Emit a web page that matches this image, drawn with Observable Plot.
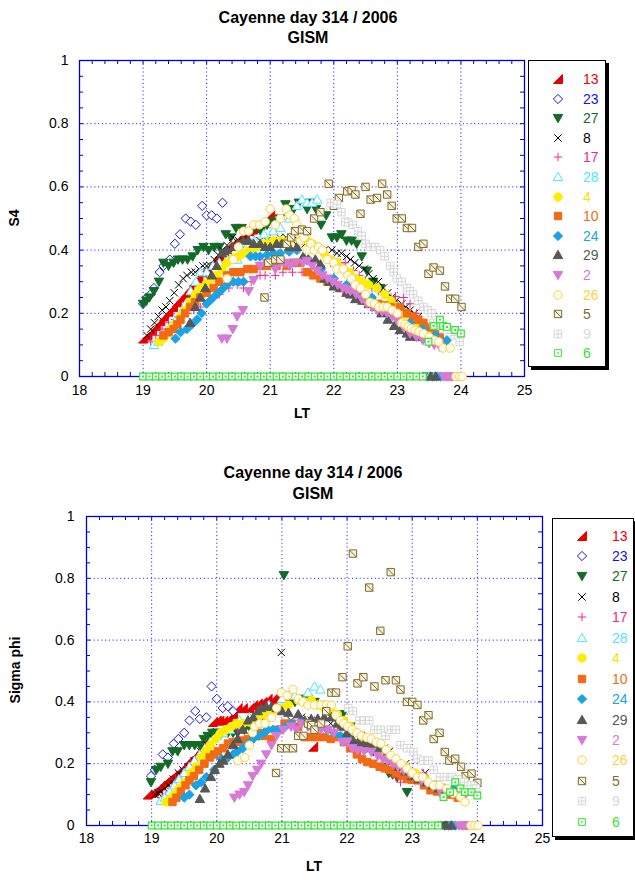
<!DOCTYPE html>
<html><head><meta charset="utf-8">
<script src="https://cdn.jsdelivr.net/npm/d3@7"></script>
<script src="https://cdn.jsdelivr.net/npm/@observablehq/plot@0.6"></script>
<style>
body{margin:0;background:#fff;font-family:"Liberation Sans",Arial,sans-serif;}
#page{position:relative;width:635px;height:880px;overflow:hidden;background:#fff;}
.t{position:absolute;font-weight:bold;font-size:16px;line-height:20px;text-align:center;width:320px;color:#000;}
.al{position:absolute;font-weight:bold;font-size:14px;line-height:16px;white-space:nowrap;color:#000;}
.leg{position:absolute;border:1.5px solid #000;box-shadow:3px 3px 0 #000;background:#fff;box-sizing:border-box;}
.leg .lab{position:absolute;font-size:14px;line-height:16px;}
.leg svg{position:absolute;overflow:visible;}
</style></head>
<body><div id="page"></div>
<script>
// ---------------- DATA (LT hours, value) ----------------
const seriesIds = ["13","23","27","8","17","28","4","10","24","29","2","26","5","9","6"];
const xTicks = [18,19,20,21,22,23,24,25];
const yTicks = [0,0.2,0.4,0.6,0.8,1];
const yTickLabels = ["0","0.2","0.4","0.6","0.8","1"];

// zero-valued green (6) samples along the bottom
const ltZero6 = [19.0,19.1,19.2,19.3,19.4,19.5,19.6,19.7,19.8,19.9,20.0,20.1,20.2,20.3,20.4,20.5,20.6,20.7,20.8,20.9,21.0,21.1,21.2,21.3,21.4,21.5,21.6,21.7,21.8,21.9,22.0,22.1,22.2,22.3,22.4,22.5,22.6,22.7,22.8,22.9,23.0,23.1,23.2,23.3,23.4];

// ---- S4 ----
const s4_13 = [[19.0,.12],[19.07,.13],[19.14,.145],[19.2,.16],[19.27,.175],[19.33,.19],[19.4,.205],[19.47,.22],[19.53,.235],[19.6,.25],[19.67,.265],[19.73,.28],[19.8,.30],[19.87,.31],[19.93,.33],[20.0,.34],[20.07,.355],[20.13,.37],[20.2,.38],[20.27,.395],[20.33,.41],[20.4,.42],[20.47,.43],[20.53,.44],[20.6,.45],[20.67,.46],[20.73,.465],[20.8,.47],[21.0,.51]];
const s4_23 = [[19.0,.23],[19.06,.25],[19.12,.26],[19.17,.28],[19.26,.33],[19.32,.35],[19.42,.37],[19.5,.42],[19.58,.45],[19.67,.50],[19.75,.49],[19.83,.48],[19.93,.54],[20.0,.51],[20.08,.51],[20.16,.50],[20.25,.55]];
const s4_27 = [[19.0,.23],[19.05,.24],[19.1,.25],[19.17,.27],[19.25,.30],[19.32,.36],[19.4,.35],[19.48,.36],[19.55,.37],[19.62,.37],[19.7,.37],[19.78,.38],[19.86,.40],[19.95,.41],[20.03,.40],[20.12,.41],[20.2,.41],[20.3,.45],[20.38,.44],[20.46,.47],[20.55,.47],[20.65,.46],[20.75,.47],[20.85,.46],[20.95,.48],[21.05,.49],[21.15,.50],[21.24,.545],[21.37,.53],[21.45,.55],[21.58,.53],[21.63,.55],[21.72,.53],[21.8,.48],[21.88,.51],[21.97,.44],[22.05,.44],[22.12,.45],[22.2,.43],[22.28,.43],[22.36,.42],[22.44,.38],[22.52,.335],[22.62,.30],[22.73,.28],[23.48,0],[23.55,0]];
const s4_8 = [[19.06,.13],[19.12,.15],[19.18,.17],[19.24,.19],[19.3,.21],[19.36,.22],[19.42,.24],[19.49,.265],[19.56,.29],[19.63,.31],[19.69,.32],[19.76,.33],[19.82,.33],[19.88,.34],[19.94,.35],[20.0,.35],[20.06,.35],[20.12,.37],[20.18,.385],[20.25,.40],[20.32,.415],[20.41,.44],[20.5,.43],[20.6,.44],[20.7,.43],[20.84,.43],[20.95,.43],[21.05,.43],[21.15,.44],[21.25,.44],[21.35,.43],[21.45,.43],[21.55,.42],[21.7,.41],[21.85,.40],[21.97,.40],[22.05,.39],[22.12,.39],[22.2,.38],[22.26,.37],[22.33,.36],[22.4,.35],[22.48,.34],[22.55,.325],[22.62,.31],[22.7,.30],[22.78,.28],[22.85,.265],[22.91,.25],[22.98,.24],[23.07,.23],[23.13,.22],[23.2,.21],[23.27,.20],[23.33,.19]];
const s4_17 = [[19.12,.11],[19.2,.13],[19.3,.15],[19.4,.17],[19.5,.18],[19.6,.19],[19.7,.20],[19.8,.21],[19.9,.22],[20.06,.24],[20.2,.26],[20.35,.28],[20.48,.29],[20.58,.28],[20.7,.30],[20.84,.32],[20.92,.32],[21.08,.32],[21.2,.33],[21.35,.33],[21.5,.33],[21.65,.34],[21.8,.35],[21.95,.36],[22.1,.36],[22.18,.36],[22.31,.335],[22.4,.32],[22.5,.30],[22.6,.28],[22.7,.27],[22.8,.26],[22.9,.25],[22.97,.253],[23.1,.25],[23.2,.23],[23.3,.20]];
const s4_28 = [[19.17,.10],[19.24,.11],[19.3,.13],[19.37,.145],[19.43,.16],[19.5,.175],[19.59,.20],[19.67,.23],[19.75,.27],[19.83,.30],[19.9,.33],[20.0,.33],[20.1,.35],[20.2,.36],[20.32,.37],[20.48,.37],[20.6,.40],[20.75,.43],[20.9,.45],[21.05,.46],[21.16,.47],[21.3,.50],[21.42,.54],[21.5,.56],[21.58,.55],[21.66,.55],[21.74,.56],[23.5,0],[23.58,0],[23.65,0]];
const s4_4 = [[19.25,.11],[19.32,.12],[19.38,.135],[19.43,.15],[19.5,.165],[19.59,.19],[19.66,.21],[19.74,.235],[19.82,.26],[19.9,.28],[20.0,.295],[20.08,.31],[20.16,.32],[20.24,.34],[20.32,.36],[20.42,.375],[20.5,.38],[20.58,.39],[20.68,.40],[20.79,.41],[20.88,.42],[20.95,.42],[21.05,.43],[21.16,.43],[21.3,.43],[21.47,.43],[21.58,.43],[21.66,.42],[21.75,.41],[21.85,.39],[21.95,.37],[22.05,.36],[22.15,.34],[22.25,.33],[22.35,.31],[22.45,.30],[22.55,.29],[22.68,.28],[22.8,.26],[22.9,.24],[23.0,.22],[23.1,.20],[23.2,.18],[23.3,.16],[23.4,.14],[23.5,.12]];
const s4_10 = [[19.32,.13],[19.4,.14],[19.48,.15],[19.54,.165],[19.59,.18],[19.66,.20],[19.74,.22],[19.82,.235],[19.9,.25],[20.0,.265],[20.11,.28],[20.2,.30],[20.32,.32],[20.42,.33],[20.53,.33],[20.64,.34],[20.74,.34],[20.85,.35],[20.95,.35],[21.1,.35],[21.26,.35],[21.37,.36],[21.47,.36],[21.58,.33],[21.68,.32],[21.79,.31],[21.9,.30],[22.0,.29],[22.1,.28],[22.2,.27],[22.3,.26],[22.4,.25],[22.5,.24],[22.6,.235],[22.7,.23],[22.8,.225],[22.9,.22],[23.04,.22],[23.15,.20],[23.25,.19],[23.33,.18],[23.41,.17],[23.5,.155],[23.6,.14],[23.67,.125],[23.75,.10],[23.8,0]];
const s4_24 = [[19.51,.12],[19.59,.14],[19.69,.15],[19.77,.165],[19.85,.18],[19.92,.20],[20.0,.23],[20.08,.245],[20.16,.26],[20.24,.275],[20.32,.29],[20.42,.30],[20.5,.30],[20.58,.30],[20.69,.38],[20.77,.38],[20.84,.38],[20.95,.385],[21.05,.39],[21.16,.39],[21.3,.395],[21.42,.40],[21.6,.37],[21.8,.34],[22.0,.31],[22.2,.29],[22.4,.27],[22.6,.25],[22.8,.22],[23.0,.20],[23.2,.17],[23.4,.15],[23.6,.13],[23.78,.115],[23.62,0],[23.68,0]];
const s4_29 = [[19.74,.17],[19.82,.22],[19.9,.25],[19.98,.28],[20.08,.32],[20.16,.35],[20.24,.39],[20.32,.40],[20.42,.41],[20.5,.42],[20.58,.43],[20.66,.43],[20.74,.42],[20.84,.42],[20.92,.41],[21.0,.41],[21.1,.42],[21.18,.42],[21.3,.41],[21.42,.41],[21.52,.38],[21.6,.37],[21.71,.37],[21.79,.355],[21.86,.31],[21.93,.30],[22.0,.285],[22.1,.28],[22.2,.265],[22.26,.26],[22.34,.245],[22.45,.24],[22.55,.23],[22.65,.22],[22.75,.20],[22.85,.18],[22.95,.16],[23.04,.147],[23.15,.136],[23.2,.126],[23.32,.125],[23.45,.12],[23.52,0],[23.6,0]];
const s4_2 = [[20.24,.12],[20.32,.12],[20.41,.15],[20.48,.19],[20.57,.21],[20.66,.27],[20.74,.305],[20.84,.35],[20.95,.36],[21.08,.34],[21.16,.36],[21.24,.36],[21.31,.35],[21.4,.36],[21.52,.36],[21.58,.366],[21.66,.35],[21.74,.335],[21.82,.32],[21.9,.31],[21.98,.30],[22.06,.29],[22.14,.28],[22.2,.275],[22.26,.27],[22.35,.26],[22.44,.245],[22.52,.23],[22.6,.22],[22.68,.21],[22.76,.205],[22.84,.20],[22.92,.19],[23.0,.175],[23.1,.155],[23.2,.136],[23.3,.125],[23.4,.115],[23.5,.105],[23.58,.10],[23.67,.094],[23.73,0],[23.78,0],[23.83,0],[23.87,0]];
const s4_26 = [[20.32,.31],[20.42,.37],[20.5,.41],[20.58,.46],[20.66,.46],[20.74,.48],[20.83,.48],[20.92,.49],[21.0,.53],[21.08,.48],[21.16,.50],[21.25,.53],[21.31,.51],[21.38,.50],[21.42,.48],[21.48,.43],[21.53,.44],[21.58,.40],[21.64,.42],[21.69,.40],[21.76,.41],[21.82,.40],[21.9,.37],[22.0,.36],[22.05,.34],[22.15,.34],[22.22,.32],[22.28,.31],[22.34,.29],[22.42,.28],[22.5,.26],[22.57,.235],[22.64,.23],[22.71,.22],[22.78,.22],[22.84,.22],[22.92,.21],[23.0,.20],[23.07,.17],[23.12,.165],[23.17,.157],[23.22,.152],[23.28,.147],[23.34,.142],[23.41,.136],[23.5,.125],[23.58,.115],[23.65,.11],[23.72,.09],[23.83,.09],[23.92,0],[23.98,0],[24.02,0]];
const s4_5 = [[20.91,.25],[20.97,.36],[21.08,.37],[21.16,.37],[21.26,.42],[21.33,.44],[21.39,.46],[21.5,.465],[21.58,.46],[21.69,.50],[21.79,.52],[21.92,.61],[22.0,.54],[22.08,.565],[22.21,.586],[22.28,.59],[22.34,.576],[22.42,.515],[22.5,.60],[22.58,.56],[22.68,.565],[22.76,.61],[22.84,.576],[22.91,.54],[22.99,.50],[23.07,.50],[23.15,.47],[23.23,.47],[23.33,.41],[23.41,.42],[23.49,.325],[23.57,.345],[23.67,.335],[23.75,.285],[23.83,.246],[23.91,.246],[24.01,.22]];
const s4_9 = [[21.95,.55],[22.05,.545],[22.12,.52],[22.18,.49],[22.23,.487],[22.3,.48],[22.38,.46],[22.44,.445],[22.5,.42],[22.57,.41],[22.65,.41],[22.73,.40],[22.8,.38],[22.89,.35],[22.94,.33],[22.99,.31],[23.07,.30],[23.15,.28],[23.2,.27],[23.25,.26],[23.33,.24],[23.41,.22],[23.48,.21],[23.54,.20],[23.57,.17],[23.65,.16],[23.72,.15],[23.78,.147],[23.9,.13],[23.98,.11]];
const s4_6 = [[23.49,.11],[23.57,.16],[23.67,.18],[23.72,.16],[23.78,.157],[23.91,.147],[24.0,.136]];

// ---- Sigma phi ----
const sp_13 = [[18.94,.10],[19.0,.105],[19.04,.11],[19.1,.12],[19.14,.13],[19.2,.14],[19.26,.15],[19.32,.16],[19.38,.17],[19.45,.18],[19.51,.195],[19.57,.21],[19.63,.22],[19.7,.235],[19.76,.25],[19.82,.27],[19.88,.30],[19.94,.335],[20.0,.34],[20.04,.34],[20.1,.34],[20.17,.345],[20.25,.36],[20.32,.38],[20.4,.38],[20.5,.38],[20.56,.39],[20.63,.395],[20.7,.40],[20.78,.41],[20.86,.41],[20.96,.42],[21.05,.42],[21.12,.41],[21.48,.255]];
const sp_23 = [[18.99,.16],[19.05,.18],[19.17,.23],[19.25,.22],[19.34,.265],[19.41,.28],[19.5,.30],[19.58,.34],[19.67,.37],[19.74,.345],[19.84,.35],[19.92,.45],[20.0,.41],[20.09,.38],[20.17,.386],[20.25,.37]];
const sp_27 = [[18.99,.14],[19.07,.18],[19.14,.19],[19.25,.20],[19.32,.24],[19.4,.24],[19.5,.26],[19.58,.26],[19.66,.26],[19.74,.26],[19.8,.28],[19.86,.29],[19.93,.30],[19.99,.30],[20.08,.30],[20.17,.30],[20.25,.30],[20.32,.30],[20.42,.31],[20.5,.32],[20.6,.33],[20.7,.35],[20.8,.37],[20.9,.38],[21.03,.81],[21.1,.39],[21.2,.40],[21.3,.41],[21.4,.41],[21.5,.40],[21.6,.39],[21.72,.37],[21.82,.36],[21.93,.36],[22.05,.32],[22.2,.29],[22.4,.24],[22.55,.19],[22.64,.17],[22.7,.165],[22.77,.157],[22.92,.108],[23.5,0],[23.56,0]];
const sp_8 = [[19.05,.10],[19.1,.105],[19.14,.11],[19.2,.12],[19.26,.13],[19.33,.15],[19.41,.17],[19.48,.18],[19.56,.19],[19.65,.21],[19.75,.24],[19.85,.26],[19.95,.28],[20.99,.56],[21.14,.34],[21.3,.35],[21.45,.34],[21.6,.33],[21.75,.33],[22.57,.25],[22.65,.24],[22.9,.20],[23.2,.17]];
const sp_17 = [[19.16,.09],[19.22,.10],[19.3,.12],[19.37,.15],[19.45,.16],[19.52,.18],[19.6,.19],[19.66,.20],[19.75,.22],[20.32,.31],[22.52,.19],[22.6,.18],[22.67,.17],[22.75,.155],[22.82,.14],[23.17,.17]];
const sp_28 = [[19.14,.08],[19.2,.09],[19.28,.11],[19.35,.13],[19.42,.15],[19.5,.17],[19.58,.19],[19.66,.21],[19.74,.23],[19.82,.25],[19.9,.27],[20.0,.29],[20.1,.30],[20.2,.31],[20.35,.34],[20.5,.35],[20.65,.37],[20.8,.39],[21.0,.41],[21.2,.42],[21.4,.43],[21.5,.45],[21.59,.44],[23.58,0],[23.64,0]];
const sp_4 = [[19.22,.076],[19.28,.085],[19.35,.10],[19.42,.12],[19.5,.14],[19.6,.17],[19.68,.19],[19.76,.22],[19.83,.24],[19.9,.26],[19.98,.28],[20.06,.30],[20.14,.31],[20.22,.32],[20.3,.33],[20.4,.33],[20.5,.335],[20.57,.34],[20.63,.35],[20.72,.36],[20.8,.37],[20.9,.375],[20.99,.38],[21.1,.39],[21.25,.405],[21.35,.40],[21.45,.405],[21.55,.39],[21.65,.38],[21.75,.37],[21.85,.36],[21.95,.34],[22.05,.32],[22.15,.30],[22.25,.28],[22.35,.265],[22.47,.25],[22.6,.23],[22.75,.21],[22.9,.19],[23.05,.17],[23.2,.15],[23.35,.13],[23.5,.11]];
const sp_10 = [[19.32,.076],[19.38,.09],[19.45,.11],[19.52,.13],[19.58,.146],[19.65,.16],[19.73,.18],[19.81,.20],[19.89,.22],[19.96,.23],[20.02,.24],[20.1,.25],[20.17,.265],[20.25,.27],[20.32,.27],[20.4,.275],[20.48,.28],[20.55,.29],[20.63,.30],[20.72,.29],[20.84,.28],[20.94,.31],[21.04,.33],[21.15,.33],[21.25,.32],[21.35,.286],[21.45,.286],[21.55,.286],[21.65,.286],[21.75,.28],[21.86,.286],[21.95,.27],[22.05,.25],[22.15,.23],[22.23,.215],[22.31,.205],[22.4,.20],[22.5,.19],[22.58,.185],[22.67,.18],[22.75,.17],[22.84,.16],[22.92,.15],[23.0,.148],[23.08,.146],[23.18,.13],[23.28,.114],[23.38,.11],[23.48,.105],[23.58,.10],[23.7,.09],[23.8,0]];
const sp_24 = [[19.5,.09],[19.58,.10],[19.68,.13],[19.76,.14],[19.84,.157],[19.96,.18],[20.07,.216],[20.17,.22],[20.25,.23],[20.32,.24],[20.4,.25],[20.48,.265],[20.56,.28],[20.64,.29],[20.72,.30],[20.78,.31],[20.86,.31],[20.94,.31],[21.05,.32],[21.15,.33],[21.3,.34],[21.45,.32],[21.6,.32],[21.7,.31],[21.8,.30],[21.9,.29],[22.0,.28],[22.1,.27],[22.2,.26],[22.3,.25],[22.47,.24],[22.6,.22],[22.75,.20],[22.9,.18],[23.05,.16],[23.2,.14],[23.35,.13],[23.5,.12],[23.63,.12],[23.6,0],[23.66,0]];
const sp_29 = [[19.74,.086],[19.82,.12],[19.91,.157],[19.97,.18],[20.04,.20],[20.1,.21],[20.17,.23],[20.25,.26],[20.32,.28],[20.4,.31],[20.48,.34],[20.56,.35],[20.63,.37],[20.68,.38],[20.76,.385],[20.84,.385],[20.92,.38],[21.0,.37],[21.1,.365],[21.25,.36],[21.35,.34],[21.45,.345],[21.55,.346],[21.65,.35],[21.76,.35],[21.85,.33],[21.91,.32],[22.0,.30],[22.09,.276],[22.17,.27],[22.26,.265],[22.34,.265],[22.42,.265],[22.5,.25],[22.6,.23],[22.7,.21],[22.8,.19],[22.9,.175],[23.0,.16],[23.1,.15],[23.2,.14],[23.3,.13],[23.4,.12],[23.5,.11],[23.52,0],[23.6,0]];
const sp_2 = [[20.27,.09],[20.35,.10],[20.42,.108],[20.48,.13],[20.55,.16],[20.62,.18],[20.68,.20],[20.76,.23],[20.84,.26],[20.92,.29],[21.02,.31],[21.14,.32],[21.22,.31],[21.3,.33],[21.4,.32],[21.5,.31],[21.6,.31],[21.7,.31],[21.8,.30],[21.93,.27],[22.0,.27],[22.08,.25],[22.16,.243],[22.26,.24],[22.37,.238],[22.47,.225],[22.55,.215],[22.62,.21],[22.7,.20],[22.78,.19],[22.87,.178],[22.96,.167],[23.05,.157],[23.14,.145],[23.23,.135],[23.32,.125],[23.42,.115],[23.52,.105],[23.62,.10],[23.72,.095],[23.79,.09],[23.72,0],[23.78,0],[23.84,0],[23.88,0]];
const sp_26 = [[20.32,.21],[20.43,.22],[20.5,.26],[20.55,.30],[20.58,.32],[20.66,.33],[20.74,.33],[20.84,.35],[20.92,.38],[20.99,.43],[21.08,.42],[21.17,.44],[21.25,.41],[21.32,.40],[21.4,.39],[21.5,.39],[21.6,.39],[21.68,.39],[21.76,.39],[21.83,.357],[21.9,.34],[21.95,.33],[22.01,.32],[22.08,.31],[22.15,.30],[22.22,.29],[22.3,.285],[22.37,.28],[22.45,.27],[22.52,.265],[22.6,.245],[22.67,.227],[22.75,.216],[22.83,.20],[22.92,.184],[23.0,.17],[23.08,.157],[23.16,.157],[23.25,.14],[23.33,.13],[23.42,.13],[23.53,.12],[23.63,.105],[23.74,.092],[23.81,.076],[23.9,0],[23.96,0],[24.01,0]];
const sp_5 = [[20.91,.17],[20.99,.25],[21.08,.25],[21.17,.25],[21.25,.29],[21.33,.29],[21.4,.33],[21.45,.325],[21.5,.31],[21.6,.33],[21.68,.37],[21.76,.43],[21.83,.43],[21.93,.48],[22.01,.58],[22.09,.88],[22.16,.46],[22.25,.48],[22.34,.77],[22.42,.45],[22.51,.63],[22.59,.47],[22.67,.82],[22.75,.47],[22.82,.44],[22.92,.40],[23.0,.40],[23.08,.39],[23.17,.34],[23.25,.357],[23.33,.28],[23.42,.30],[23.5,.238],[23.57,.21],[23.66,.216],[23.75,.19],[23.82,.16],[23.91,.168],[24.0,.138]];
const sp_9 = [[22.02,.38],[22.09,.37],[22.19,.34],[22.26,.34],[22.34,.34],[22.42,.31],[22.52,.31],[22.59,.29],[22.67,.31],[22.75,.31],[22.82,.26],[22.92,.25],[23.02,.238],[23.08,.216],[23.17,.21],[23.25,.21],[23.33,.18],[23.43,.157],[23.53,.157],[23.61,.157],[23.7,.15],[23.8,.14],[23.9,.13],[23.98,.12]];
const sp_6 = [[23.48,.092],[23.58,.108],[23.66,.14],[23.74,.12],[23.81,.108],[23.91,.108],[24.0,.097]];

// -------------- styles (not data) --------------
const styles = {
  "13":{sym:"rtri",   fill:"#e80000", stroke:"#e80000", text:"#e80000"},
  "23":{sym:"diamond",fill:"#ffffff", stroke:"#1414e0", text:"#1414e0"},
  "27":{sym:"tridown",fill:"#136b28", stroke:"#136b28", text:"#136b28"},
  "8": {sym:"times",  fill:"none",    stroke:"#000000", text:"#000000"},
  "17":{sym:"plus",   fill:"none",    stroke:"#f0288c", text:"#f0288c"},
  "28":{sym:"triup",  fill:"#ffffff", stroke:"#4fe3ff", text:"#4fe3ff"},
  "4": {sym:"circle", fill:"#ffee00", stroke:"#ffee00", text:"#f5e400"},
  "10":{sym:"square", fill:"#f26a14", stroke:"#f26a14", text:"#f26a14"},
  "24":{sym:"diamond",fill:"#1aa2e6", stroke:"#1aa2e6", text:"#1aa2e6"},
  "29":{sym:"triup",  fill:"#575757", stroke:"#575757", text:"#575757"},
  "2": {sym:"tridown",fill:"#d77ad7", stroke:"#d77ad7", text:"#d77ad7"},
  "26":{sym:"circle", fill:"#fffdf0", stroke:"#ffd040", text:"#ffd040"},
  "5": {sym:"boxdiag",fill:"#f6f1dc", stroke:"#7f6c2c", text:"#7f6c2c"},
  "9": {sym:"boxplus",fill:"#ffffff", stroke:"#d6d6d6", text:"#d9d9d9"},
  "6": {sym:"boxdot", fill:"#ffffff", stroke:"#33e633", text:"#2ee62e"}
};
function makeSymbol(kind){
  return {draw(ctx, size){
    const r = Math.sqrt(size/Math.PI);
    const h = r*0.88;
    switch(kind){
      case "rtri": ctx.moveTo(r,-r); ctx.lineTo(r,r); ctx.lineTo(-r,r); ctx.closePath(); break;
      case "diamond": ctx.moveTo(0,-r*1.1); ctx.lineTo(r*1.1,0); ctx.lineTo(0,r*1.1); ctx.lineTo(-r*1.1,0); ctx.closePath(); break;
      case "tridown": ctx.moveTo(-r*1.05,-r*0.8); ctx.lineTo(r*1.05,-r*0.8); ctx.lineTo(0,r*1.05); ctx.closePath(); break;
      case "triup": ctx.moveTo(0,-r*1.05); ctx.lineTo(r*1.05,r*0.8); ctx.lineTo(-r*1.05,r*0.8); ctx.closePath(); break;
      case "times": ctx.moveTo(-h,-h); ctx.lineTo(h,h); ctx.moveTo(-h,h); ctx.lineTo(h,-h); break;
      case "plus": ctx.moveTo(-r,0); ctx.lineTo(r,0); ctx.moveTo(0,-r); ctx.lineTo(0,r); break;
      case "circle": ctx.moveTo(r,0); ctx.arc(0,0,r,0,2*Math.PI); break;
      case "square": ctx.rect(-h,-h,2*h,2*h); break;
      case "boxdiag": ctx.rect(-h,-h,2*h,2*h); ctx.moveTo(-h,-h); ctx.lineTo(h,h); break;
      case "boxplus": ctx.rect(-h,-h,2*h,2*h); ctx.moveTo(-h,0); ctx.lineTo(h,0); ctx.moveTo(0,-h); ctx.lineTo(0,h); break;
      case "boxdot": ctx.rect(-h,-h,2*h,2*h); ctx.rect(-0.4,-0.4,0.8,0.8); break;
    }
  }};
}
const symbols = {};
for (const id of seriesIds) symbols[id] = makeSymbol(styles[id].sym);
const sizeR = k => (k==="triup"||k==="tridown"||k==="rtri") ? 4.5 : (k==="boxdot" ? 3.8 : 4.2);

const AXIS = "#0000d0", GRID = "#2a2aff";
const s4Sets = {"13":s4_13,"23":s4_23,"27":s4_27,"8":s4_8,"17":s4_17,"28":s4_28,"4":s4_4,"10":s4_10,"24":s4_24,"29":s4_29,"2":s4_2,"26":s4_26,"5":s4_5,"9":s4_9,"6":ltZero6.map(x=>[x,0]).concat(s4_6)};
const spSets = {"13":sp_13,"23":sp_23,"27":sp_27,"8":sp_8,"17":sp_17,"28":sp_28,"4":sp_4,"10":sp_10,"24":sp_24,"29":sp_29,"2":sp_2,"26":sp_26,"5":sp_5,"9":sp_9,"6":ltZero6.map(x=>[x,0]).concat(sp_6)};

function panel(sets, g){
  const pw = g.width - g.ml - g.mr, ph = g.height - g.mt - g.mb;
  const xMinor = d3.range(0,36).map(i => +(18 + i*0.2).toFixed(1));
  const yMinor = d3.range(0,21).map(i => +(i*0.05).toFixed(2));
  const marks = [
    Plot.ruleX([19,20,21,22,23,24], {stroke: GRID, strokeWidth: 1, strokeDasharray: "1.2,2.6"}),
    Plot.ruleY([0.2,0.4,0.6,0.8], {stroke: GRID, strokeWidth: 1, strokeDasharray: "1.2,2.6"}),
    Plot.ruleX(xMinor, {stroke: AXIS, insetTop: ph-4}),
    Plot.ruleX(xMinor, {stroke: AXIS, insetBottom: ph-4}),
    Plot.ruleY(yMinor, {stroke: AXIS, insetRight: pw-4}),
    Plot.ruleY(yMinor, {stroke: AXIS, insetLeft: pw-4}),
    Plot.frame({stroke: AXIS, strokeWidth: 1.3}),
    Plot.axisX({ticks: xTicks, tickSize: 0, tickPadding: g.xpad, tickFormat: d => String(d), label: null, fontSize: 14}),
    Plot.axisY({ticks: yTicks, tickSize: 0, tickPadding: g.ypad, tickFormat: d => yTickLabels[yTicks.indexOf(d)], label: null, fontSize: 14})
  ];
  for (const id of seriesIds){
    const st = styles[id];
    const data = sets[id].map(([x,y]) => ({x, y}));
    marks.push(Plot.dot(data, {x: "x", y: "y", symbol: symbols[id], r: sizeR(st.sym), fill: st.fill, stroke: st.stroke, strokeWidth: id === "6" ? 1.2 : 1}));
  }
  const svg = Plot.plot({
    width: g.width, height: g.height,
    marginLeft: g.ml, marginRight: g.mr, marginTop: g.mt, marginBottom: g.mb,
    x: {domain: [18,25], label: null},
    y: {domain: [0,1], label: null},
    style: {fontFamily: "'Liberation Sans', Arial, sans-serif", fontSize: "14px", color: "#000", background: "transparent", overflow: "visible"},
    marks
  });
  svg.style.position = "absolute";
  svg.style.left = g.left + "px";
  svg.style.top = g.top + "px";
  return svg;
}

const page = document.getElementById("page");
page.appendChild(panel(s4Sets, {left:0, top:0, width:540, height:430, ml:79, mr:16, mt:60, mb:54, xpad:9, ypad:11}));
page.appendChild(panel(spSets, {left:0, top:456, width:552, height:424, ml:86, mr:10, mt:60, mb:55, xpad:8, ypad:12}));

function addDiv(cls, text, css){
  const d = document.createElement("div");
  d.className = cls; d.innerHTML = text;
  Object.assign(d.style, css);
  page.appendChild(d);
  return d;
}
addDiv("t", "Cayenne day 314 / 2006<br>GISM", {left:"148px", top:"8px"});
addDiv("t", "Cayenne day 314 / 2006<br>GISM", {left:"153px", top:"462px", lineHeight:"21px"});
addDiv("al", "LT", {left:"302px", top:"413px", transform:"translate(-50%,-50%)"});
addDiv("al", "LT", {left:"314px", top:"866px", transform:"translate(-50%,-50%)"});
addDiv("al", "S4", {left:"14px", top:"218px", transform:"translate(-50%,-50%) rotate(-90deg)"});
addDiv("al", "Sigma phi", {left:"15px", top:"670px", transform:"translate(-50%,-50%) rotate(-90deg)"});

function legend(box){
  const d = document.createElement("div");
  d.className = "leg";
  Object.assign(d.style, {left: box.left+"px", top: box.top+"px", width: box.w+"px", height: box.h+"px"});
  seriesIds.forEach((id, i) => {
    const st = styles[id];
    const cy = box.y0 + box.dy*i;
    const r = sizeR(st.sym);
    const path = d3.symbol(symbols[id], r*r*Math.PI)();
    const ns = "http://www.w3.org/2000/svg";
    const svg = document.createElementNS(ns, "svg");
    svg.setAttribute("width", 12); svg.setAttribute("height", 12);
    svg.style.left = (box.sx - 6) + "px"; svg.style.top = (cy - 6) + "px";
    const p = document.createElementNS(ns, "path");
    p.setAttribute("d", path); p.setAttribute("transform", "translate(6,6)");
    p.setAttribute("fill", st.fill); p.setAttribute("stroke", st.stroke); p.setAttribute("stroke-width", 1);
    svg.appendChild(p); d.appendChild(svg);
    const lab = document.createElement("div");
    lab.className = "lab"; lab.textContent = id;
    Object.assign(lab.style, {left: box.lx+"px", top: (cy-8)+"px", color: st.text});
    d.appendChild(lab);
  });
  page.appendChild(d);
}
legend({left:528, top:60, w:78, h:307, sx:29, lx:54, y0:18, dy:19.6});
legend({left:552, top:518, w:82, h:319, sx:29, lx:59, y0:16.5, dy:20.45});
</script>
</body></html>
